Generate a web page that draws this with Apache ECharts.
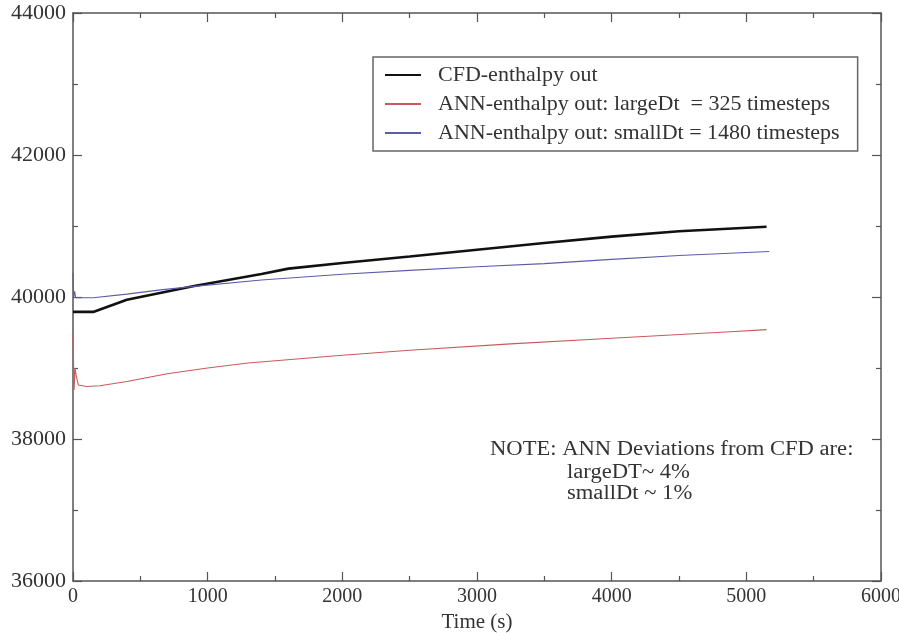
<!DOCTYPE html>
<html>
<head>
<meta charset="utf-8">
<script src="https://cdn.jsdelivr.net/npm/echarts@6/dist/echarts.min.js"></script>
<style>
  html, body { margin: 0; padding: 0; background: #fff; }
  #chart { width: 899px; height: 633px; }
</style>
</head>
<body>
<div id="chart"></div>
<script>
  // Time (s) / enthalpy pairs
  const cfdData = [
    [0, 39790], [150, 39790], [400, 39960], [900, 40155], [1400, 40325],
    [1600, 40400], [2000, 40480], [2500, 40570], [3000, 40665], [3500, 40760],
    [4000, 40850], [4500, 40925], [5150, 40990]
  ];
  const largeDtData = [
    [0, 39480], [8, 38690], [15, 39000], [25, 38880], [40, 38760], [100, 38740],
    [200, 38750], [400, 38810], [700, 38920], [1000, 39000], [1300, 39070],
    [2000, 39180], [2500, 39250], [3250, 39340], [4000, 39420], [4880, 39510],
    [5150, 39540]
  ];
  const smallDtData = [
    [0, 40340], [5, 40000], [12, 40080], [20, 39990], [60, 39990], [150, 39990],
    [400, 40040], [650, 40100], [900, 40150], [1400, 40240], [2000, 40320],
    [2500, 40375], [3000, 40425], [3500, 40470], [4000, 40530], [4500, 40585],
    [5170, 40640]
  ];
  const seriesNames = [
    "CFD-enthalpy out",
    "ANN-enthalpy out: largeDt  = 325 timesteps",
    "ANN-enthalpy out: smallDt = 1480 timesteps"
  ];
  const noteLines = [
    "NOTE: ANN Deviations from CFD are:",
    "largeDT~ 4%",
    "smallDt ~ 1%"
  ];

  let chart = echarts.init(document.getElementById("chart"));
  const font = "Liberation Serif";
  const axisCol = "#555";
  const plain = v => String(v); // no thousands separator

  // shared look for all four frame axes
  function frameAxis(extra) {
    return Object.assign({
      type: "value",
      axisLine: { show: true, onZero: false, lineStyle: { color: axisCol, width: 1.5 } },
      axisTick: { show: true, inside: true, length: 9, lineStyle: { color: axisCol, width: 1.2 } },
      minorTick: { show: true, splitNumber: 2, length: 5, lineStyle: { color: axisCol, width: 1.2 } },
      splitLine: { show: false },
      axisLabel: { show: false }
    }, extra);
  }

  let option = {
    animation: false,
    backgroundColor: "#fff",
    grid: { left: 73, right: 18, top: 13, bottom: 52, outerBoundsMode: "none", containLabel: false },
    xAxis: [
      frameAxis({
        min: 0, max: 6000, interval: 1000, position: "bottom",
        axisLabel: { show: true, margin: 6, fontFamily: font, fontSize: 20, color: "#333", formatter: plain },
        name: "Time (s)", nameLocation: "middle", nameGap: 31,
        nameTextStyle: { fontFamily: font, fontSize: 21, color: "#333" }
      }),
      frameAxis({ min: 0, max: 6000, interval: 1000, position: "top" })
    ],
    yAxis: [
      frameAxis({
        min: 36000, max: 44000, interval: 2000, position: "left",
        axisLabel: { show: true, margin: 7, fontFamily: font, fontSize: 22, color: "#333", formatter: plain }
      }),
      frameAxis({ min: 36000, max: 44000, interval: 2000, position: "right" })
    ],
    legend: {
      orient: "vertical",
      left: 373, top: 57,
      padding: [7, 18, 7, 11],
      itemGap: 7,
      itemWidth: 36,
      itemHeight: 14,
      borderColor: "#666",
      borderWidth: 1.5,
      itemStyle: { opacity: 0 },
      textStyle: { fontFamily: font, fontSize: 22, lineHeight: 22, color: "#333", padding: [0, 0, 0, 12] },
      data: seriesNames
    },
    series: [
      {
        name: seriesNames[0], type: "line", data: cfdData, symbol: "none",
        lineStyle: { color: "#111", width: 2.6 }, itemStyle: { color: "#111" }
      },
      {
        name: seriesNames[1], type: "line", data: largeDtData, symbol: "none",
        lineStyle: { color: "#c85a5a", width: 1.1 }, itemStyle: { color: "#c85a5a" }
      },
      {
        name: seriesNames[2], type: "line", data: smallDtData, symbol: "none",
        lineStyle: { color: "#5c5cac", width: 1.1 }, itemStyle: { color: "#5c5cac" }
      }
    ],
    graphic: [
      { type: "text", x: 490, y: 440, scaleX: 1.13, style: { text: noteLines[0], font: "20px " + font, fill: "#333" } },
      { type: "text", x: 567, y: 463, scaleX: 1.13, style: { text: noteLines[1], font: "20px " + font, fill: "#333" } },
      { type: "text", x: 567, y: 484, scaleX: 1.13, style: { text: noteLines[2], font: "20px " + font, fill: "#333" } }
    ]
  };

  chart.setOption(option);
  window.addEventListener("resize", () => {
    chart.resize();
  });
</script>
</body>
</html>
